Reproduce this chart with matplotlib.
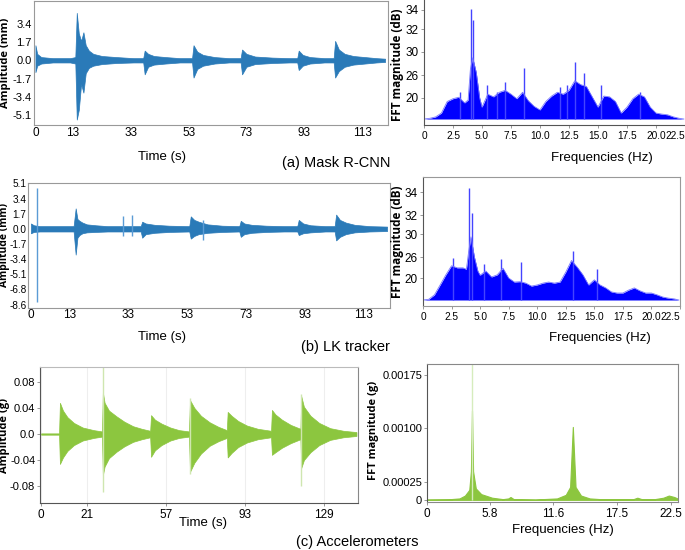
import numpy as np
import matplotlib
matplotlib.use('Agg')
import matplotlib.pyplot as plt

# ---------------- data ----------------

# (a) Mask R-CNN displacement, envelope of the trace (s, mm)
a_t = [0.0, 0.6, 2.0, 6.0, 12.0,
       13.8, 14.3, 15.0, 15.8, 16.6, 17.4, 18.5, 20.0, 23.0, 28.0, 34.0,
       37.3, 37.8, 39.0, 41.0, 45.0, 50.0, 54.2,
       54.7, 56.0, 58.0, 62.0, 67.0, 71.0,
       71.5, 73.0, 76.0, 82.0, 88.0, 90.6,
       91.1, 92.5, 95.0, 100.0, 103.2,
       103.7, 105.0, 107.0, 110.0, 114.0, 118.0, 121.0]
a_hi = [1.4, 0.6, 0.3, 0.2, 0.2,
        0.3, 4.4, 2.5, 1.8, 2.6, 1.4, 0.9, 0.6, 0.4, 0.3, 0.2,
        0.2, 0.9, 0.6, 0.4, 0.3, 0.2, 0.2,
        1.4, 0.8, 0.5, 0.3, 0.2, 0.2,
        1.0, 0.6, 0.35, 0.25, 0.2, 0.2,
        0.9, 0.5, 0.3, 0.2, 0.2,
        1.8, 1.0, 0.6, 0.4, 0.3, 0.2, 0.15]
a_lo = [-1.1, -0.5, -0.3, -0.2, -0.2,
        -0.3, -5.5, -4.6, -2.2, -3.0, -1.2, -0.7, -0.5, -0.35, -0.25, -0.2,
        -0.2, -1.3, -0.6, -0.4, -0.3, -0.2, -0.2,
        -1.6, -0.8, -0.5, -0.3, -0.2, -0.2,
        -1.3, -0.6, -0.35, -0.25, -0.2, -0.2,
        -0.9, -0.5, -0.3, -0.2, -0.2,
        -1.6, -1.0, -0.6, -0.4, -0.3, -0.2, -0.15]

# (b) LK tracker displacement envelope (s, mm)
b_t = [0.0, 1.0, 3.0, 8.0, 14.5,
       15.2, 15.8, 16.5, 17.5, 19.0, 22.0, 26.0, 30.0,
       37.3, 37.8, 39.0, 42.0, 47.0, 53.8,
       54.3, 55.5, 57.0, 60.0, 65.0, 70.8,
       71.3, 72.5, 75.0, 80.0, 86.0, 90.5,
       91.0, 92.5, 95.0, 100.0, 103.2,
       103.7, 105.0, 107.0, 110.0, 115.0, 121.0]
b_hi = [0.6, 0.4, 0.3, 0.3, 0.3,
        2.3, 1.1, 0.9, 0.7, 0.5, 0.4, 0.3, 0.3,
        0.3, 0.8, 0.6, 0.45, 0.35, 0.3,
        1.4, 1.0, 0.8, 0.5, 0.35, 0.3,
        0.9, 0.6, 0.45, 0.35, 0.3, 0.3,
        1.0, 0.6, 0.4, 0.3, 0.3,
        1.6, 1.0, 0.7, 0.45, 0.3, 0.25]
b_lo = [-0.5, -0.35, -0.3, -0.3, -0.3,
        -2.9, -1.0, -0.7, -0.5, -0.4, -0.35, -0.3, -0.3,
        -0.3, -1.0, -0.6, -0.45, -0.35, -0.3,
        -1.1, -0.8, -0.6, -0.45, -0.35, -0.3,
        -0.9, -0.6, -0.45, -0.35, -0.3, -0.3,
        -0.7, -0.5, -0.4, -0.3, -0.3,
        -1.3, -0.9, -0.6, -0.4, -0.3, -0.25]
# single-sample spikes in the LK trace
b_spike_t = [2.0, 31.3, 34.5, 58.4]
b_spike_hi = [4.6, 1.4, 1.6, 1.0]
b_spike_lo = [-8.2, -0.8, -0.8, -1.3]

# (c) accelerometer envelope (s, g)
c_t = [0.0, 8.2,
       8.6, 10.0, 12.0, 15.0, 19.0, 24.0, 27.8,
       28.2, 29.0, 31.0, 34.5, 38.0, 42.0, 46.0, 49.8,
       50.2, 52.0, 55.0, 59.0, 63.0, 67.5,
       68.0, 70.0, 73.0, 77.0, 81.0, 84.8,
       85.2, 87.0, 90.0, 94.0, 99.0, 105.0,
       105.4, 107.0, 110.0, 114.0, 118.4,
       118.8, 120.0, 123.0, 127.0, 132.0, 138.0, 144.0]
c_hi = [0.001, 0.001,
        0.048, 0.036, 0.026, 0.017, 0.010, 0.006, 0.004,
        0.064, 0.048, 0.036, 0.027, 0.019, 0.012, 0.008, 0.005,
        0.029, 0.022, 0.016, 0.010, 0.006, 0.004,
        0.052, 0.040, 0.028, 0.018, 0.011, 0.006,
        0.034, 0.028, 0.020, 0.013, 0.008, 0.005,
        0.037, 0.030, 0.022, 0.014, 0.008,
        0.058, 0.042, 0.028, 0.017, 0.009, 0.005, 0.003]
c_lo = [-0.001, -0.001,
        -0.046, -0.036, -0.026, -0.017, -0.010, -0.006, -0.004,
        -0.063, -0.050, -0.037, -0.027, -0.019, -0.012, -0.008, -0.005,
        -0.035, -0.025, -0.017, -0.010, -0.006, -0.004,
        -0.058, -0.044, -0.030, -0.018, -0.011, -0.006,
        -0.036, -0.029, -0.020, -0.013, -0.008, -0.005,
        -0.032, -0.028, -0.021, -0.014, -0.008,
        -0.052, -0.040, -0.028, -0.017, -0.009, -0.005, -0.003]
c_spike_t = [28.3, 68.0, 118.8]
c_spike_hi = [0.103, 0.055, 0.062]
c_spike_lo = [-0.089, -0.062, -0.080]

# FFT spectra of the two vision methods (Hz, dB)
fft_freq = [0.0, 0.5, 1.0, 1.5, 2.0, 2.5, 3.0, 3.5, 3.8, 4.0, 4.2, 4.5, 4.8,
            5.0, 5.5, 6.0, 6.5, 7.0, 7.5, 8.0, 8.5, 9.0, 9.5, 10.0, 10.5,
            11.0, 11.5, 12.0, 12.5, 13.0, 13.5, 14.0, 14.5, 15.0, 15.5, 16.0,
            16.5, 17.0, 17.5, 18.0, 18.5, 19.0, 19.5, 20.0, 20.5, 21.0, 21.5,
            22.0, 22.4]
fa_db = [14.0, 14.2, 14.6, 15.7, 19.0, 19.8, 20.2, 18.6, 19.4, 27.0, 29.0, 26.5, 20.0,
         17.4, 21.0, 20.3, 21.5, 22.0, 21.0, 19.8, 21.5, 19.2, 17.6, 16.6, 19.0,
         20.5, 21.5, 21.0, 22.0, 24.5, 23.5, 23.0, 20.3, 17.4, 20.5, 20.3,
         19.0, 15.7, 17.4, 19.8, 21.0, 20.3, 17.4, 15.7, 15.4, 15.2, 14.6,
         14.2, 14.0]
fb_db = [14.0, 14.2, 15.4, 18.1, 20.9, 23.5, 22.9, 22.9, 22.5, 27.0, 29.5, 26.0, 22.0,
         20.8, 22.0, 20.3, 20.9, 22.8, 20.0, 18.9, 19.0, 18.6, 17.8, 18.1, 18.6,
         18.9, 18.6, 18.9, 21.7, 25.0, 23.1, 20.9, 18.1, 19.5, 18.1, 17.3,
         16.2, 15.9, 15.9, 16.7, 17.3, 16.5, 15.9, 15.9, 15.4, 14.8, 14.5,
         14.3, 14.0]
fa_spike_f = [3.1, 4.02, 4.25, 5.45, 6.3, 7.0, 8.6, 11.7, 12.3, 13.0, 13.8, 15.3, 18.6]
fa_spike_db = [21.6, 34.3, 33.0, 23.4, 21.6, 24.2, 27.2, 23.0, 23.5, 28.3, 26.3, 23.4, 21.6]
fb_spike_f = [2.6, 4.0, 4.3, 5.3, 6.85, 8.6, 13.1, 15.25]
fb_spike_db = [25.6, 35.0, 32.2, 24.0, 25.5, 24.6, 27.0, 22.5]

# accelerometer FFT (Hz, g)
fc_f = [0.0, 2.0, 3.0, 3.5, 3.9, 4.05, 4.15, 4.25, 4.5, 5.0, 6.0, 7.0, 7.5, 7.7,
        8.0, 10.0, 12.0, 12.8, 13.2, 13.45, 13.7, 14.2, 15.0, 16.0, 19.0, 19.4,
        19.8, 21.0, 21.8, 22.3, 22.8, 23.1]
fc_g = [0.000005, 0.000008, 0.00002, 0.00006, 0.00014, 0.0004, 0.00125, 0.0004,
        0.00016, 0.00008, 0.00003, 0.00001, 0.00002, 0.00004, 0.00001, 0.000005,
        0.00002, 0.00007, 0.00018, 0.00102, 0.00018, 0.00006, 0.00002, 0.00001,
        0.000008, 0.00003, 0.00001, 0.00001, 0.00003, 0.00006, 0.00004, 0.00002]
fc_spike_f = [4.15]
fc_spike_g = [0.0019]

# tick labels
time_ticks = [0, 13, 33, 53, 73, 93, 113]
a_yticks = [3.4, 1.7, 0.0, -1.7, -3.4, -5.1]
b_yticks = [5.1, 3.4, 1.7, 0.0, -1.7, -3.4, -5.1, -6.8, -8.6]
db_ticks = [20, 26, 30, 32, 34]
freq_ticks = [0, 2.5, 5.0, 7.5, 10.0, 12.5, 15.0, 17.5, 20.0, 22.5]
c_xticks = [0, 21, 57, 93, 129]
c_yticks = [0.08, 0.04, 0.0, -0.04, -0.08]
fc_xticks = [0, 5.8, 11.6, 17.5, 22.5]
fc_yticks = [0, 0.00025, 0.001, 0.00175]
fc_ylabels = ['0', '0.00025', '0.00100', '0.00175']

# ---------------- drawing ----------------
W, H = 685, 550
TICK_FONT = ['Liberation Sans', 'DejaVu Sans']
LABEL_FONT = ['Open Sans', 'DejaVu Sans']
BLUE = '#2a7ab8'
FFT_BLUE = '#0000ff'
GREEN = '#8cc63f'

fig = plt.figure(figsize=(6.85, 5.5), dpi=100)


def pix_axes(l, t, r, b):
    # place an axes by its pixel box in the 685x550 picture
    return fig.add_axes([l / W, 1 - b / H, (r - l) / W, (b - t) / H])


def style(ax, edge='#999999', size=8.5):
    for s in ax.spines.values():
        s.set_color(edge)
        s.set_linewidth(0.8)
    ax.tick_params(length=2, width=0.6, color='#888888', pad=2, labelsize=size)
    for lab in ax.get_xticklabels() + ax.get_yticklabels():
        lab.set_family(TICK_FONT)


def db_scale(ax, pix, top, bottom):
    # the dB tick labels are not evenly spaced, so map them piecewise
    levels = [8, 14, 20, 26, 30, 32, 34, 40]
    pos = -np.array(pix, dtype=float)
    fwd = lambda v: np.interp(v, levels, pos)
    inv = lambda p: np.interp(p, pos, levels)
    ax.set_yscale('function', functions=(fwd, inv))
    ax.set_ylim(inv(-bottom), inv(-top))
    ax.set_yticks(db_ticks)
    ax.set_yticklabels([str(v) for v in db_ticks])


def text(x, y, s, size=9.5, **kw):
    fig.text(x / W, 1 - y / H, s, size=size, family=TICK_FONT, **kw)


def ylab(x, y, s, size=8.5):
    fig.text(x / W, 1 - y / H, s, size=size, family=LABEL_FONT, weight='bold',
             rotation=90, ha='center', va='center')


# (a) Mask R-CNN time history
ax = pix_axes(34, 1, 388, 125)
ax.fill_between(a_t, a_lo, a_hi, color=BLUE, lw=0.5)
ax.set_xlim(-0.5, 122)
ax.set_ylim(-6.0, 5.5)
ax.set_xticks(time_ticks)
ax.set_yticks(a_yticks)
ax.set_yticklabels([str(v) for v in a_yticks])
style(ax)
ax.tick_params(length=0, pad=1.5)
ax.tick_params(axis='y', labelsize=8)
ylab(6, 63, 'Amplitude (mm)', size=8)
text(162, 157, 'Time (s)', ha='center', va='center')
text(391, 163, '(a) Mask R-CNN', size=10.5, ha='right', va='center')

# (a) FFT
ax = pix_axes(424, 0, 685, 125)
ax.vlines(fa_spike_f, 14, fa_spike_db, color='#4444ff', lw=1.0)
ax.fill_between(fft_freq, 14, fa_db, color=FFT_BLUE, lw=0)
ax.plot(fft_freq, fa_db, color='#7777ff', lw=0.6)
db_scale(ax, [140, 119, 98, 75, 52, 29, 10, -12], 0, 125)
ax.set_xlim(0, 22.5)
ax.set_xticks(freq_ticks)
ax.set_xticklabels(['0'] + ['%.1f' % v for v in freq_ticks[1:]])
style(ax, '#555555')
ax.tick_params(axis='x', labelsize=7.3)
ax.spines['top'].set_visible(False)
ax.spines['right'].set_visible(False)
ax.get_xticklabels()[-1].set_ha('right')
ylab(398, 65, 'FFT magnitude (dB)')
text(602, 158, 'Frequencies (Hz)', ha='center', va='center')

# (b) LK tracker time history
ax = pix_axes(28, 183, 390, 308)
ax.fill_between(b_t, b_lo, b_hi, color=BLUE, lw=0.5)
ax.vlines(b_spike_t, b_spike_lo, b_spike_hi, color='#5b9bd5', lw=1.0)
ax.set_xlim(-1.0, 122)
ax.set_ylim(-8.9, 5.15)
ax.set_xticks(time_ticks)
ax.set_yticks(b_yticks)
ax.set_yticklabels([str(v) for v in b_yticks])
style(ax, size=7.2)
ax.tick_params(length=0, pad=1)
ax.tick_params(axis='x', labelsize=8.5)
ylab(4.5, 245, 'Amplitude (mm)', size=7.5)
text(162, 337, 'Time (s)', ha='center', va='center')
text(390, 347, '(b) LK tracker', size=10.5, ha='right', va='center')

# (b) FFT
ax = pix_axes(423, 177, 680, 306)
ax.vlines(fb_spike_f, 14, fb_spike_db, color='#4444ff', lw=1.0)
ax.fill_between(fft_freq, 14, fb_db, color=FFT_BLUE, lw=0)
ax.plot(fft_freq, fb_db, color='#7777ff', lw=0.6)
db_scale(ax, [322, 300, 278, 257, 234, 215, 192, 170], 177, 306)
ax.set_xlim(0, 22.15)
ax.set_xticks(freq_ticks)
ax.set_xticklabels(['0'] + ['%.1f' % v for v in freq_ticks[1:]])
style(ax)
ax.tick_params(axis='x', labelsize=7.3)
ax.spines['left'].set_color('#555555')
ax.get_xticklabels()[-1].set_ha('right')
ylab(398, 242, 'FFT magnitude (dB)')
text(600, 338, 'Frequencies (Hz)', ha='center', va='center')

# (c) accelerometer time history
ax = pix_axes(40, 367, 358, 503)
ax.grid(axis='x', color='#eeeeee', lw=0.8)
ax.set_axisbelow(True)
ax.vlines(c_spike_t, c_spike_lo, c_spike_hi, color='#cfe6b0', lw=1.0)
ax.fill_between(c_t, c_lo, c_hi, color=GREEN, lw=0.5)
ax.set_xlim(-0.5, 144.7)
ax.set_ylim(-0.106, 0.103)
ax.set_xticks(c_xticks)
ax.set_yticks(c_yticks)
ax.set_yticklabels(['0.08', '0.04', '0.0', '-0.04', '-0.08'])
style(ax, '#555555')
ax.tick_params(axis='y', labelsize=8, pad=1.5)
ax.spines['top'].set_color('#bbbbbb')
ax.spines['right'].set_color('#888888')
ylab(5, 435, 'Amplitude (g)', size=8)
text(203, 523, 'Time (s)', ha='center', va='center')
text(357, 542, '(c) Accelerometers', size=10.5, ha='center', va='center')

# (c) FFT
ax = pix_axes(427, 364, 678, 502)
ax.vlines(fc_spike_f, 0, fc_spike_g, color='#d6ecbd', lw=1.0)
ax.fill_between(fc_f, 0, fc_g, color=GREEN, lw=0.8)
ax.set_xlim(0, 23.15)
ax.set_ylim(-0.00003, 0.0019)
ax.set_xticks(fc_xticks)
ax.set_xticklabels(['0', '5.8', '11.6', '17.5', '22.5'])
ax.set_yticks(fc_yticks)
ax.set_yticklabels(fc_ylabels)
style(ax, '#888888')
ax.tick_params(axis='y', labelsize=8, pad=1.5)
ax.spines['left'].set_color('#555555')
ylab(374, 430, 'FFT magnitude (g)', size=8)
text(563, 530, 'Frequencies (Hz)', ha='center', va='center')

fig.savefig('out.png', dpi=100)
